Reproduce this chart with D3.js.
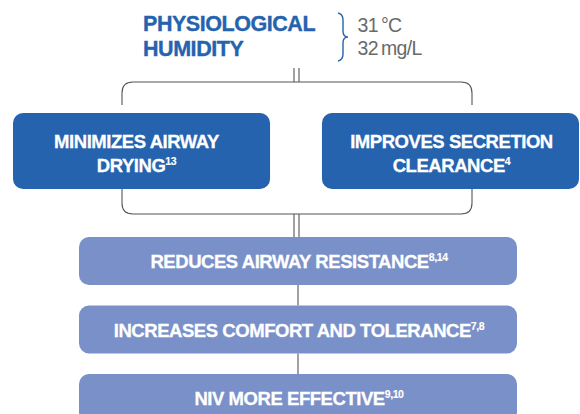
<!DOCTYPE html>
<html><head><meta charset="utf-8">
<script src="https://cdn.jsdelivr.net/npm/d3@7"></script>
<style>html,body{margin:0;padding:0;background:#fff;}svg{display:block;}</style>
</head><body>
<script>
const titleLines = ["PHYSIOLOGICAL", "HUMIDITY"];
const conditionLines = ["31\u2009\u00B0C", "32\u2009mg/L"];
const topBoxes = [
  {lines: ["MINIMIZES AIRWAY", "DRYING"], sup: "13"},
  {lines: ["IMPROVES SECRETION", "CLEARANCE"], sup: "4"}
];
const bottomBoxes = [
  {text: "REDUCES AIRWAY RESISTANCE", sup: "8,14"},
  {text: "INCREASES COMFORT AND TOLERANCE", sup: "7,8"},
  {text: "NIV MORE EFFECTIVE", sup: "9,10"}
];

const W = 580, H = 414;
const dark = "#2563ae", light = "#7a90c8", lineC = "#555", grey = "#6a6a6a";
const font = "'Liberation Sans', Arial, sans-serif";

const svg = d3.select("body").append("svg").attr("width", W).attr("height", H);

// title
svg.append("g").selectAll("text").data(titleLines).join("text")
  .attr("x", 143).attr("y", (d, i) => 31 + i * 24.5)
  .attr("font-family", font).attr("font-weight", "bold").attr("font-size", 21.5)
  .attr("letter-spacing", -0.45).attr("fill", dark)
  .attr("stroke", dark).attr("stroke-width", 0.35).text(d => d);

// brace
svg.append("path")
  .attr("d", "M338,13 Q343,14 343,20 L343,31 Q343,37 348,37 Q343,37 343,43 L343,54 Q343,60 338,61")
  .attr("fill", "none").attr("stroke", dark).attr("stroke-width", 1.4);

svg.append("g").selectAll("text").data(conditionLines).join("text")
  .attr("x", 357.5).attr("y", (d, i) => 32 + i * 23)
  .attr("font-family", font).attr("font-size", 19.5).attr("letter-spacing", -0.7)
  .attr("fill", grey).text(d => d);

// scales
const xTop = d3.scaleBand().domain(d3.range(topBoxes.length)).range([13, 579]).paddingInner(0.168);
const yBot = d3.scaleBand().domain(d3.range(bottomBoxes.length)).range([237, 422]).paddingInner(0.3);
const topY = 113, topH = 76;
const botX0 = 79, botX1 = 517;
const cx = 296.5;

const lines = svg.append("g").attr("fill", "none").attr("stroke", lineC).attr("stroke-width", 1.1);
const lx = 122, rx = 472;
const r = 11;
// upper bracket
const uy = 82, uEnd = 105;
lines.append("path").attr("d",
  `M${lx},${uEnd} L${lx},${uy + r} Q${lx},${uy} ${lx + r},${uy} L${rx - r},${uy} Q${rx},${uy} ${rx},${uy + r} L${rx},${uEnd}`);
lines.append("path").attr("d", `M${cx - 2.5},68 L${cx - 2.5},${uy} M${cx + 2.5},68 L${cx + 2.5},${uy}`);
// lower bracket
const by = 214;
lines.append("path").attr("d",
  `M${lx},${topY + topH} L${lx},${by - r} Q${lx},${by} ${lx + r},${by} L${rx - r},${by} Q${rx},${by} ${rx},${by - r} L${rx},${topY + topH}`);
lines.append("path").attr("d", `M${cx - 2.5},${by} L${cx - 2.5},${yBot(0)} M${cx + 2.5},${by} L${cx + 2.5},${yBot(0)}`);
// connectors between bottom boxes
lines.selectAll(".conn").data(d3.range(bottomBoxes.length - 1)).join("line")
  .attr("x1", 298).attr("x2", 298)
  .attr("y1", i => yBot(i) + yBot.bandwidth()).attr("y2", i => yBot(i + 1));

// top boxes
const tg = svg.append("g").selectAll("g").data(topBoxes).join("g");
tg.append("rect").attr("x", (d, i) => xTop(i)).attr("y", topY)
  .attr("width", xTop.bandwidth()).attr("height", topH).attr("rx", 10).attr("fill", dark);
tg.each(function(d, i) {
  const g = d3.select(this);
  const c = xTop(i) + xTop.bandwidth() / 2 + (i === 0 ? -5 : 1);
  d.lines.forEach((ln, j) => {
    const t = g.append("text").attr("x", c).attr("y", 148 + j * 24)
      .attr("text-anchor", "middle").attr("font-family", font).attr("font-weight", "bold")
      .attr("font-size", 18.5).attr("letter-spacing", -0.45).attr("fill", "#fff")
      .attr("stroke", "#fff").attr("stroke-width", 0.3);
    t.append("tspan").text(ln);
    if (j === d.lines.length - 1) {
      t.append("tspan").attr("font-size", 10.5).attr("dy", -7).attr("letter-spacing", -0.4)
        .attr("stroke-width", 0.15).text(d.sup);
    }
  });
});

// bottom boxes
const bg = svg.append("g").selectAll("g").data(bottomBoxes).join("g");
bg.append("rect").attr("x", botX0).attr("y", (d, i) => yBot(i))
  .attr("width", botX1 - botX0).attr("height", yBot.bandwidth()).attr("rx", 10).attr("fill", light);
const bt = bg.append("text").attr("x", (botX0 + botX1) / 2 + 1).attr("y", (d, i) => yBot(i) + 31)
  .attr("text-anchor", "middle").attr("font-family", font).attr("font-weight", "bold")
  .attr("font-size", 18.5).attr("letter-spacing", -0.45).attr("fill", "#fff")
  .attr("stroke", "#fff").attr("stroke-width", 0.3);
bt.append("tspan").text(d => d.text);
bt.append("tspan").attr("font-size", 10.5).attr("dy", -7).attr("letter-spacing", -0.4)
  .attr("stroke-width", 0.15).text(d => d.sup);
</script>
</body></html>
